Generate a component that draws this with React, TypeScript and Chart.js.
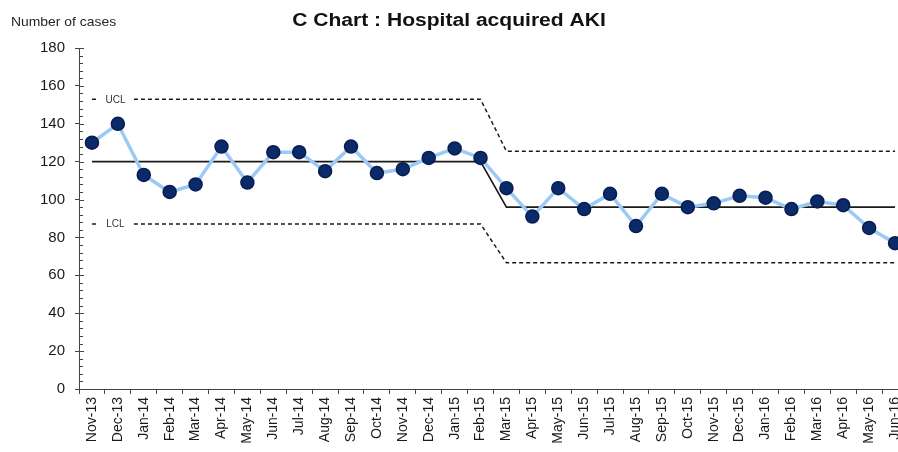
import React, { useEffect, useRef } from "react";
import { Chart, registerables } from "chart.js";

Chart.register(...registerables);

const months = [
  "Nov-13", "Dec-13",
  "Jan-14", "Feb-14", "Mar-14", "Apr-14", "May-14", "Jun-14", "Jul-14", "Aug-14", "Sep-14", "Oct-14", "Nov-14", "Dec-14",
  "Jan-15", "Feb-15", "Mar-15", "Apr-15", "May-15", "Jun-15", "Jul-15", "Aug-15", "Sep-15", "Oct-15", "Nov-15", "Dec-15",
  "Jan-16", "Feb-16", "Mar-16", "Apr-16", "May-16", "Jun-16",
];

const cases = [
  130, 140,
  113, 104, 108, 128, 109, 125, 125, 115, 128, 114, 116, 122,
  127, 122, 106, 91, 106, 95, 103, 86, 103, 96, 98, 102,
  101, 95, 99, 97, 85, 77,
];

const centreLine = [
  120, 120, 120, 120, 120, 120, 120, 120, 120, 120, 120, 120, 120, 120, 120, 120,
  96, 96, 96, 96, 96, 96, 96, 96, 96, 96, 96, 96, 96, 96, 96, 96,
];

const upperLimit = [
  152.9, 152.9, 152.9, 152.9, 152.9, 152.9, 152.9, 152.9, 152.9, 152.9, 152.9, 152.9, 152.9, 152.9, 152.9, 152.9,
  125.5, 125.5, 125.5, 125.5, 125.5, 125.5, 125.5, 125.5, 125.5, 125.5, 125.5, 125.5, 125.5, 125.5, 125.5, 125.5,
];

const lowerLimit = [
  87.1, 87.1, 87.1, 87.1, 87.1, 87.1, 87.1, 87.1, 87.1, 87.1, 87.1, 87.1, 87.1, 87.1, 87.1, 87.1,
  66.6, 66.6, 66.6, 66.6, 66.6, 66.6, 66.6, 66.6, 66.6, 66.6, 66.6, 66.6, 66.6, 66.6, 66.6, 66.6,
];

const yTicks = [0, 20, 40, 60, 80, 100, 120, 140, 160, 180];

const TITLE = "C Chart : Hospital acquired AKI";
const Y_LABEL = "Number of cases";
const FONT = "'Liberation Sans', Arial, sans-serif";

const decorPlugin = {
  id: "decor",
  afterDatasetsDraw(chart: any) {
    const ctx = chart.ctx;
    const y = chart.scales.y;
    const area = chart.chartArea;
    ctx.save();
    // minor / inner ticks on y axis
    ctx.strokeStyle = "#444";
    ctx.lineWidth = 1;
    for (let v = 0; v <= 180; v += 4) {
      const py = Math.round(y.getPixelForValue(v)) + 0.5;
      const major = v % 20 === 0;
      ctx.beginPath();
      ctx.moveTo(area.left, py);
      ctx.lineTo(area.left + (major ? 5 : 4), py);
      ctx.stroke();
    }
    // UCL / LCL labels
    const x0 = chart.scales.x.getPixelForValue(0);
    const labels: [string, number][] = [["UCL", upperLimit[0]], ["LCL", lowerLimit[0]]];
    ctx.font = `10px ${FONT}`;
    ctx.textAlign = "center";
    ctx.textBaseline = "middle";
    for (const [t, v] of labels) {
      const py = y.getPixelForValue(v);
      ctx.fillStyle = "#ffffff";
      ctx.fillRect(x0 + 7, py - 6, 33, 12);
      ctx.fillStyle = "#333333";
      ctx.fillText(t, x0 + 23.5, py + 0.5);
    }
    ctx.restore();
  },
  afterDraw(chart: any) {
    const ctx = chart.ctx;
    ctx.save();
    ctx.fillStyle = "#111111";
    ctx.textBaseline = "alphabetic";
    ctx.textAlign = "center";
    ctx.font = `bold 18px ${FONT}`;
    ctx.translate(449, 26);
    ctx.scale(1.17, 1);
    ctx.fillText(TITLE, 0, 0);
    ctx.restore();
    ctx.save();
    ctx.fillStyle = "#262626";
    ctx.textAlign = "left";
    ctx.textBaseline = "alphabetic";
    ctx.font = `13px ${FONT}`;
    ctx.translate(11, 25.5);
    ctx.scale(1.07, 1);
    ctx.fillText(Y_LABEL, 0, 0);
    ctx.restore();
  },
};

export default function App() {
  const ref = useRef<HTMLCanvasElement | null>(null);

  useEffect(() => {
    if (!ref.current) return;
    const chart = new Chart(ref.current, {
      type: "line",
      data: {
        labels: months,
        datasets: [
          {
            label: "Cases",
            data: cases,
            borderColor: "#9ccaf6",
            borderWidth: 3.5,
            pointRadius: 6.5,
            pointBackgroundColor: "#0b2a6a",
            pointBorderColor: "#081d4f",
            pointBorderWidth: 1.5,
            tension: 0,
          },
          {
            label: "CL",
            data: centreLine,
            borderColor: "#1a1a1a",
            borderWidth: 1.6,
            pointRadius: 0,
            tension: 0,
          },
          {
            label: "UCL",
            data: upperLimit,
            borderColor: "#1a1a1a",
            borderWidth: 1.5,
            borderDash: [4, 3],
            pointRadius: 0,
            tension: 0,
          },
          {
            label: "LCL",
            data: lowerLimit,
            borderColor: "#1a1a1a",
            borderWidth: 1.5,
            borderDash: [4, 3],
            pointRadius: 0,
            tension: 0,
          },
        ],
      },
      options: {
        responsive: false,
        animation: false,
        layout: { padding: { left: 0, top: 48, right: 4, bottom: 0 } },
        plugins: {
          legend: { display: false },
          title: { display: false },
          tooltip: { enabled: false },
        },
        scales: {
          x: {
            type: "category",
            offset: true,
            grid: {
              offset: true,
              drawOnChartArea: false,
              drawTicks: true,
              tickLength: 5,
              color: "#444",
            },
            border: { display: true, color: "#444", width: 1 },
            ticks: {
              autoSkip: false,
              minRotation: 90,
              maxRotation: 90,
              padding: 3,
              color: "#1a1a1a",
              font: { family: FONT, size: 14 },
            },
            afterFit(scale: any) {
              scale.height = 63;
            },
          },
          y: {
            min: 0,
            max: 180,
            afterBuildTicks(scale: any) {
              scale.ticks = yTicks.map((v) => ({ value: v }));
            },
            grid: {
              drawOnChartArea: false,
              drawTicks: true,
              tickLength: 4,
              color: "#444",
            },
            border: { display: true, color: "#444", width: 1 },
            ticks: {
              padding: 10,
              color: "#1a1a1a",
              font: { family: FONT, size: 15 },
            },
            afterFit(scale: any) {
              scale.width = 79;
            },
          },
        },
      },
      plugins: [decorPlugin],
    });
    return () => chart.destroy();
  }, []);

  return (
    <div
      style={{
        position: "fixed",
        left: 0,
        top: 0,
        width: 898,
        height: 452,
        overflow: "hidden",
        background: "#ffffff",
      }}
    >
      <canvas ref={ref} width={916} height={452} style={{ display: "block" }} />
    </div>
  );
}
